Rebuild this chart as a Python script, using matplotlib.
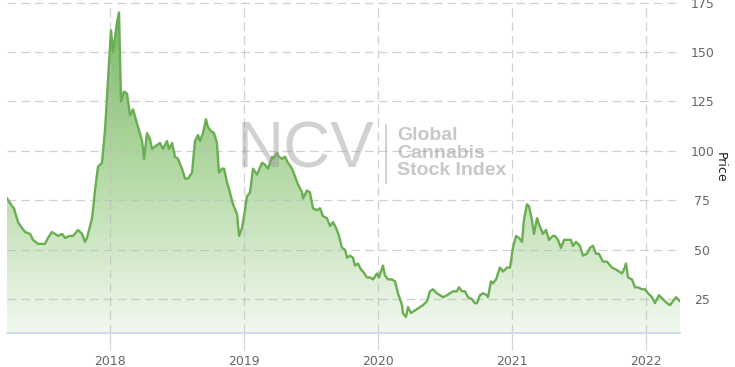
import numpy as np
import matplotlib
matplotlib.use('Agg')
from matplotlib import pyplot as plt
from matplotlib.patches import Polygon

# fecha en anios decimales y precio del indice
fechas = [2017.231, 2017.269, 2017.283, 2017.313, 2017.343, 2017.366, 2017.403, 2017.425, 2017.463, 2017.492,
          2017.515, 2017.537, 2017.567, 2017.589, 2017.612, 2017.642, 2017.664, 2017.701, 2017.724, 2017.761,
          2017.791, 2017.813, 2017.828, 2017.866, 2017.888, 2017.910, 2017.940, 2017.963, 2017.985, 2018.007,
          2018.022, 2018.052, 2018.067, 2018.082, 2018.104, 2018.127, 2018.149, 2018.172, 2018.209, 2018.239,
          2018.254, 2018.276, 2018.298, 2018.313, 2018.351, 2018.373, 2018.395, 2018.425, 2018.440, 2018.463,
          2018.485, 2018.507, 2018.537, 2018.560, 2018.582, 2018.612, 2018.634, 2018.657, 2018.672, 2018.694,
          2018.716, 2018.731, 2018.754, 2018.776, 2018.798, 2018.813, 2018.836, 2018.851, 2018.873, 2018.895,
          2018.918, 2018.948, 2018.963, 2018.985, 2019.007, 2019.022, 2019.045, 2019.067, 2019.097, 2019.134,
          2019.157, 2019.179, 2019.209, 2019.216, 2019.246, 2019.261, 2019.284, 2019.306, 2019.328, 2019.358,
          2019.381, 2019.403, 2019.433, 2019.440, 2019.470, 2019.492, 2019.515, 2019.545, 2019.567, 2019.589,
          2019.619, 2019.642, 2019.664, 2019.687, 2019.709, 2019.731, 2019.754, 2019.769, 2019.791, 2019.813,
          2019.828, 2019.851, 2019.873, 2019.888, 2019.918, 2019.940, 2019.963, 2019.992, 2020.007, 2020.037,
          2020.052, 2020.075, 2020.104, 2020.127, 2020.149, 2020.179, 2020.186, 2020.209, 2020.224, 2020.246,
          2020.269, 2020.291, 2020.313, 2020.336, 2020.366, 2020.388, 2020.410, 2020.440, 2020.463, 2020.485,
          2020.515, 2020.537, 2020.560, 2020.589, 2020.604, 2020.627, 2020.649, 2020.672, 2020.701, 2020.724,
          2020.739, 2020.761, 2020.784, 2020.813, 2020.821, 2020.843, 2020.858, 2020.881, 2020.910, 2020.933,
          2020.963, 2020.985, 2021.007, 2021.030, 2021.052, 2021.075, 2021.089, 2021.112, 2021.127, 2021.149,
          2021.164, 2021.187, 2021.201, 2021.231, 2021.254, 2021.276, 2021.306, 2021.321, 2021.343, 2021.366,
          2021.388, 2021.418, 2021.440, 2021.455, 2021.478, 2021.507, 2021.530, 2021.560, 2021.582, 2021.604,
          2021.627, 2021.649, 2021.679, 2021.709, 2021.746, 2021.776, 2021.821, 2021.836, 2021.851, 2021.866,
          2021.895, 2021.918, 2021.940, 2021.970, 2021.993, 2022.015, 2022.045, 2022.067, 2022.097, 2022.127,
          2022.157, 2022.179, 2022.201, 2022.224, 2022.254]
precios = [76, 72, 71, 64, 61, 59, 58, 55, 53, 53,
           53, 56, 59, 58, 57, 58, 56, 57, 57, 60,
           58, 54, 56, 66, 80, 92, 94, 111, 136, 161,
           150, 165, 170, 125, 130, 129, 118, 121, 112, 105,
           96, 109, 106, 101, 103, 104, 101, 105, 101, 104,
           97, 96, 91, 86, 86, 89, 105, 108, 105, 109,
           116, 112, 110, 109, 104, 89, 91, 91, 84, 79,
           73, 68, 57, 61, 70, 77, 79, 91, 88, 94,
           93, 91, 97, 96, 99, 97, 96, 97, 94, 91,
           87, 83, 79, 76, 80, 79, 71, 70, 71, 67,
           66, 62, 64, 61, 57, 51, 50, 46, 47, 46,
           42, 43, 40, 39, 36, 36, 35, 38, 36, 42,
           37, 35, 35, 34, 28, 22, 18, 16, 21, 18,
           19, 20, 21, 22, 24, 29, 30, 28, 27, 26,
           27, 28, 29, 29, 31, 29, 29, 26, 25, 23,
           23, 27, 28, 27, 26, 34, 33, 35, 41, 39,
           41, 41, 51, 57, 56, 54, 65, 73, 72, 65,
           58, 66, 63, 58, 60, 55, 57, 57, 55, 51,
           55, 55, 55, 52, 54, 52, 47, 48, 51, 52,
           48, 48, 44, 44, 41, 40, 38, 40, 43, 36,
           35, 31, 31, 30, 30, 28, 26, 23, 27, 25,
           23, 22, 24, 26, 24]

anios = [2018, 2019, 2020, 2021, 2022]
marcas_y = [25, 50, 75, 100, 125, 150, 175]

x = np.array(fechas)
y = np.array(precios)
ymin, ymax = 7.9, 175.3

fig = plt.figure(figsize=(7.35, 3.67), dpi=100)
ax = fig.add_axes([7/735, 1-333/367, 673/735, 331/367])
ax.set_xlim(x[0], x[-1])
ax.set_ylim(ymin, ymax)

# relleno con degradado verde (abajo casi blanco, arriba verde)
grad = np.linspace(0, 1, 256).reshape(-1, 1)
cmap = matplotlib.colors.LinearSegmentedColormap.from_list(
    'verde', [(0.95, 0.975, 0.94), (0.70, 0.85, 0.64), (0.47, 0.72, 0.39)])
img = ax.imshow(grad, extent=[x[0], x[-1], ymin, ymax], origin='lower', aspect='auto',
                cmap=cmap, vmin=0, vmax=1, zorder=1)
poli = Polygon(np.column_stack([np.r_[x[0], x, x[-1]], np.r_[ymin, y, ymin]]),
               closed=True, facecolor='none', edgecolor='none')
ax.add_patch(poli)
img.set_clip_path(poli)

ax.plot(x, y, color='#6aae52', lw=1.7, zorder=3)

# rejilla
for a in anios:
    ax.axvline(a, color='#bdbdbd', lw=0.9, ls=(0, (7, 4)), alpha=0.7, zorder=2)
for m in marcas_y:
    ax.axhline(m, color='#bdbdbd', lw=0.9, ls=(0, (7, 4)), alpha=0.7, zorder=2)

ax.set_xticks(anios)
ax.set_xticklabels([str(a) for a in anios])
ax.set_yticks(marcas_y)
ax.yaxis.tick_right()
ax.tick_params(axis='y', length=0, pad=16, labelsize=9, labelcolor='#666666')
ax.tick_params(axis='x', length=12, width=0.9, color='#d5d5d5', pad=4, labelsize=9, labelcolor='#666666')
for t in ax.get_yticklabels():
    t.set_horizontalalignment('center')
ax.yaxis.set_label_position('right')
ax.set_ylabel('Price', rotation=-90, fontsize=9, labelpad=9, color='#222222')

for s in ['top', 'left', 'right']:
    ax.spines[s].set_visible(False)
ax.spines['bottom'].set_color('#ccd6eb')
ax.spines['bottom'].set_linewidth(1.2)
ax.spines['bottom'].set_zorder(4)

# marca de agua
fig.text(306/735, 1-151/367, 'NCV', fontsize=47, color='#9a9a9a', alpha=0.45,
         ha='center', va='center', family='Liberation Sans', zorder=10)
fig.add_artist(plt.Line2D([386/735, 386/735], [1-125/367, 1-183/367], color='#bbbbbb', lw=1.2, alpha=0.8))
fig.text(397/735, 1-153/367, 'Global\nCannabis\nStock Index', fontsize=14, color='#9a9a9a', alpha=0.55,
         ha='left', va='center', linespacing=1.02, family='Liberation Sans', fontweight='bold', zorder=10)

fig.savefig('out.png', dpi=100)
